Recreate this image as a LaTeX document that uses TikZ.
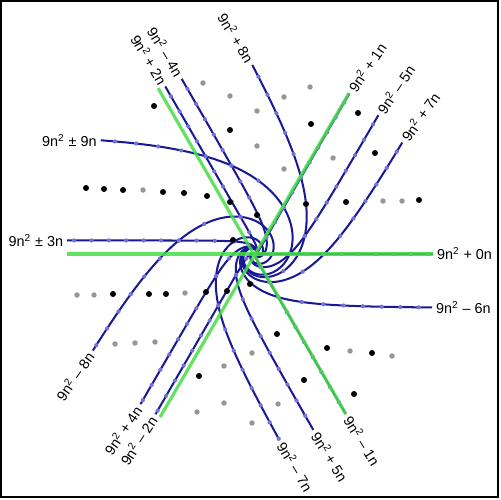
\documentclass[tikz,border=0pt]{standalone}
\usepackage{fontspec}
\setmainfont{Liberation Sans}
\definecolor{bluec}{RGB}{25,25,150}
\definecolor{greenc}{RGB}{70,222,70}
\definecolor{markc}{RGB}{115,115,215}
\definecolor{grayc}{RGB}{150,150,150}
\newcommand\spu{17.3}
\newcommand{\bcurve}[4]{%
  \pgfmathsetmacro\umax{sqrt(#4-#3)}%
  \draw[bl] plot[variable=\t, domain=0:\umax, samples=220] ({\spu*sr(#3+\t*\t,#2)*cos(sth(#3+\t*\t,#2))},{\spu*sr(#3+\t*\t,#2)*sin(sth(#3+\t*\t,#2))});%
  \coordinate (#1) at ({\spu*sr(#4,#2)*cos(sth(#4,#2))},{\spu*sr(#4,#2)*sin(sth(#4,#2))});%
}
\newcommand{\bmarks}[3]{%
  \pgfmathtruncatemacro\kst{floor(#2)+1}%
  \pgfmathtruncatemacro\ken{floor(#3)}%
  \foreach \k in {\kst,...,\ken}{\fill[mk] ({\spu*sr(\k,#1)*cos(sth(\k,#1))},{\spu*sr(\k,#1)*sin(sth(\k,#1))}) circle (1.2pt);}%
}
\begin{document}
\begin{tikzpicture}[x=0.02cm,y=-0.02cm,
  declare function={sr(\k,\c)=sqrt(max(0,\k*\k+\c*\k)); sth(\k,\c)=360*(sr(\k,\c)-\k);},
  bl/.style={draw=bluec, line width=1.15pt},
  gr/.style={draw=greenc, line width=1.8pt, draw opacity=0.85},
  mk/.style={fill=markc},
  lab/.style={font=\fontsize{8.2}{9.5}\selectfont, inner sep=2pt},
  bdot/.style={fill=black},
  gdot/.style={fill=grayc}]
\useasboundingbox (0,0) rectangle (500,500);
\fill[white] (0,0) rectangle (500,500);
\draw[line width=1.1pt] (1,1) rectangle (498,497);
\begin{scope}[shift={(255,254)}, yscale=-1]
  \coordinate (C) at (0,0);
  \bcurve{p9}{3}{0}{9.69}
  \bcurve{p3}{1}{0}{10.41}
  \bcurve{p8}{8/3}{0}{9.68}
  \bcurve{m4}{-4/3}{4/3}{11.67}
  \bcurve{p2}{2/3}{0}{10.66}
  \bcurve{p1}{1/3}{0}{10.6}
  \bcurve{m5}{-5/3}{5/3}{11.6}
  \bcurve{p7}{7/3}{0}{9.58}
  \bcurve{z0}{0}{0}{10.3}
  \bcurve{m6}{-2}{2}{11.75}
  \bcurve{m1}{-1/3}{1/3}{10.81}
  \bcurve{p5}{5/3}{0}{9.91}
  \bcurve{m7}{-7/3}{7/3}{12.06}
  \bcurve{m8}{-8/3}{8/3}{12.34}
  \bcurve{p4}{4/3}{0}{10.29}
  \bcurve{m2}{-2/3}{2/3}{11.26}
  \bmarks{3}{0}{9.69}
  \bmarks{1}{0}{10.41}
  \bmarks{8/3}{0}{9.68}
  \bmarks{-4/3}{4/3}{11.67}
  \bmarks{2/3}{0}{10.66}
  \bmarks{1/3}{0}{10.6}
  \bmarks{-5/3}{5/3}{11.6}
  \bmarks{7/3}{0}{9.58}
  \bmarks{0}{0}{10.3}
  \bmarks{-2}{2}{11.75}
  \bmarks{-1/3}{1/3}{10.81}
  \bmarks{5/3}{0}{9.91}
  \bmarks{-7/3}{7/3}{12.06}
  \bmarks{-8/3}{8/3}{12.34}
  \bmarks{4/3}{0}{10.29}
  \bmarks{-2/3}{2/3}{11.26}
\end{scope}
% dots
\foreach \p in {(203,83),(230,96),(143,190),(310,87),(284,97),(257,111),(257,146),(284,169),(333,158),(383,201),(402,201),(77,295),(94,295),(185,293),(115,344),(135,343),(155,342),(224,366),(224,403),(197,412),(350,351),(392,356),(278,404),(252,353),(252,423)}
  \fill[gdot] \p circle (1.55pt);
\foreach \p in {(154,106),(230,130),(86,188),(104,189),(123,190),(163,192),(184,193),(207,196),(230,202),(311,124),(358,113),(375,153),(306,204),(346,202),(419,200),(257,215),(233,240),(113,294),(149,294),(166,294),(206,292),(227,291),(250,284),(199,376),(277,334),(327,348),(372,353),(304,380),(354,394)}
  \fill[bdot] \p circle (1.7pt);
\begin{scope}[shift={(255,254)}, yscale=-1]
  \coordinate (g0a) at (180:188);
  \coordinate (g0b) at (0:178);
  \coordinate (g1a) at (239.8:188.7);
  \coordinate (g1b) at (59.7:186.4);
  \coordinate (g2a) at (120.3:192);
  \coordinate (g2b) at (-60.4:184);
  \draw[gr] (g0a) -- (g0b);
  \draw[gr] (g1a) -- (g1b);
  \draw[gr] (g2a) -- (g2b);
\end{scope}
% labels
\node[lab, anchor=east] (lp9) at (p9) {9n\textsuperscript{2} ± 9n};
\node[lab, anchor=east] (lp3) at (p3) {9n\textsuperscript{2} ± 3n};
\node[lab, anchor=east, rotate=-59] (lp8) at (p8) {9n\textsuperscript{2} + 8n};
\node[lab, anchor=east, rotate=-59] (lm4) at (m4) {9n\textsuperscript{2} – 4n};
\node[lab, anchor=east, rotate=-59] (lp2) at (p2) {9n\textsuperscript{2} + 2n};
\node[lab, anchor=west, rotate=56] (lp1) at (p1) {9n\textsuperscript{2} + 1n};
\node[lab, anchor=west, rotate=56] (lm5) at (m5) {9n\textsuperscript{2} – 5n};
\node[lab, anchor=west, rotate=55] (lp7) at (p7) {9n\textsuperscript{2} + 7n};
\node[lab, anchor=west] (lz0) at (z0) {9n\textsuperscript{2} + 0n};
\node[lab, anchor=west] (lm6) at (m6) {9n\textsuperscript{2} – 6n};
\node[lab, anchor=west, rotate=-58] (lm1) at (m1) {9n\textsuperscript{2} – 1n};
\node[lab, anchor=west, rotate=-58] (lp5) at (p5) {9n\textsuperscript{2} + 5n};
\node[lab, anchor=west, rotate=-59] (lm7) at (m7) {9n\textsuperscript{2} – 7n};
\node[lab, anchor=east, rotate=55] (lm8) at (m8) {9n\textsuperscript{2} – 8n};
\node[lab, anchor=east, rotate=56] (lp4) at (p4) {9n\textsuperscript{2} + 4n};
\node[lab, anchor=east, rotate=57] (lm2) at (m2) {9n\textsuperscript{2} – 2n};
\end{tikzpicture}
\end{document}
